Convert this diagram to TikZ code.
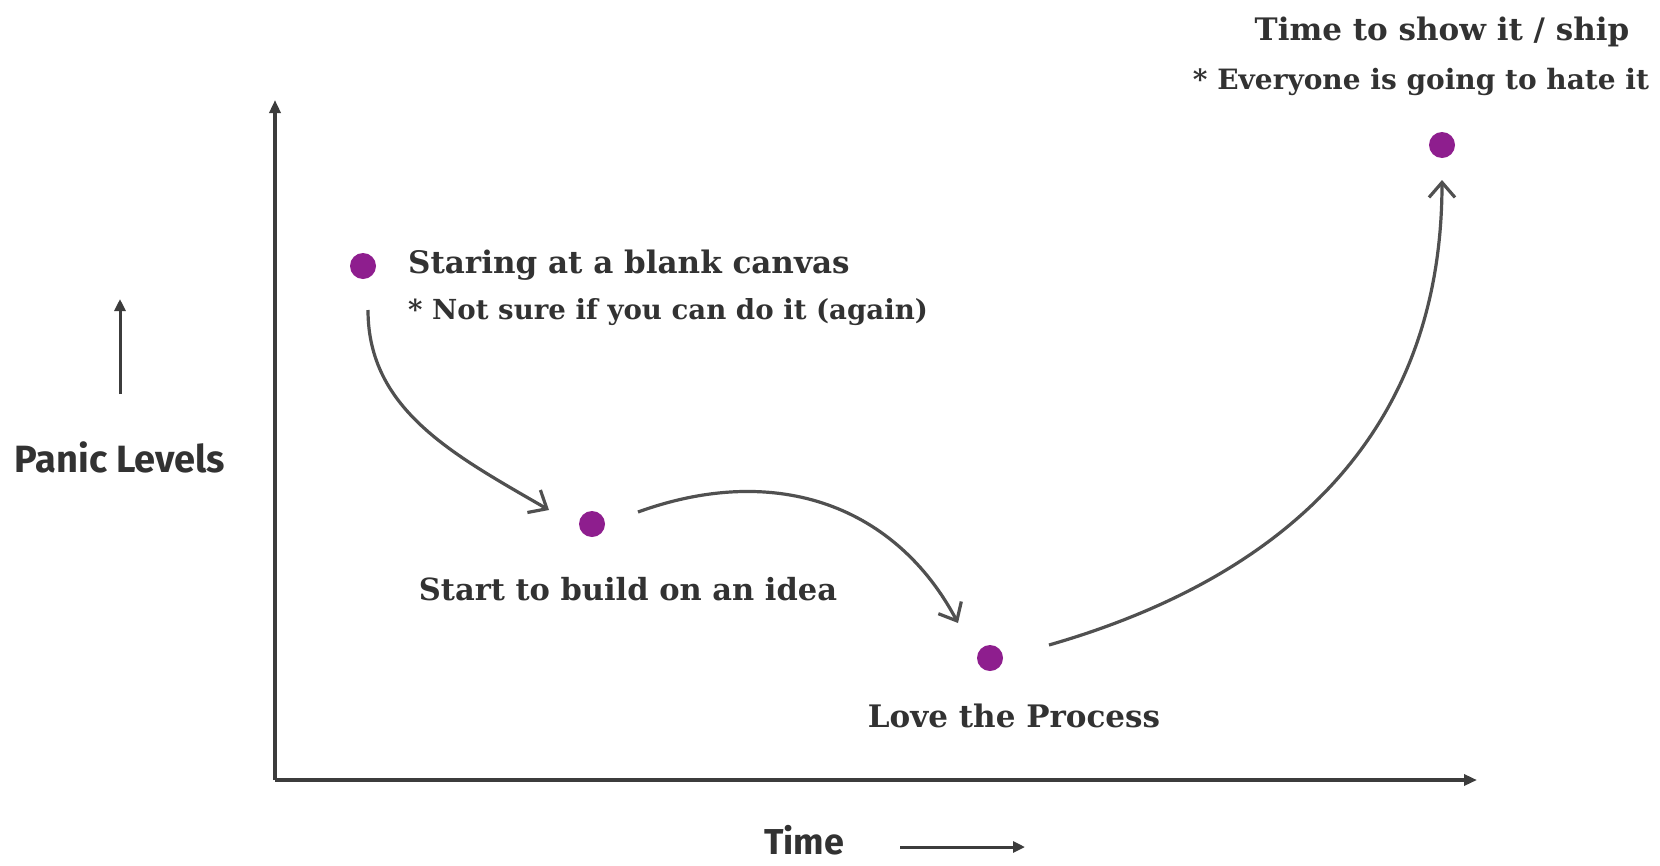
\documentclass[tikz,border=0pt]{standalone}
\usepackage{fontspec}
\setmainfont{DejaVu Serif}
\newfontfamily\handfont{Fira Sans}
\usetikzlibrary{arrows.meta,calc}
\definecolor{dotpurple}{RGB}{142,30,142}
\definecolor{inkgray}{RGB}{60,60,60}
\definecolor{txtgray}{RGB}{50,50,50}
\tikzset{
  dot/.style={circle,fill=dotpurple,minimum size=26pt,inner sep=0pt},
  lbl/.style={inner sep=0pt,text=txtgray,font=\bfseries\fontsize{31}{36}\selectfont},
  sublbl/.style={inner sep=0pt,text=txtgray,font=\bfseries\fontsize{27.6}{33}\selectfont},
  hand/.style={inner sep=0pt,text=txtgray,font=\handfont\bfseries\fontsize{38}{44}\selectfont},
  axis/.style={draw=inkgray,line width=3.5pt,-{Triangle[length=13pt,width=11pt]}},
  flow/.style={draw=inkgray!90,line width=3.2pt,-{Straight Barb[length=15pt,width=26pt,line width=3.2pt]}},
  hint/.style={draw=inkgray,line width=3pt,-{Triangle[length=12pt,width=11pt]}}
}
\begin{document}
\begin{tikzpicture}[x=1pt,y=-1pt]
\useasboundingbox[fill=white] (0,0) rectangle (1660,865);
% axes
\coordinate (origin) at (275,780);
\coordinate (ytop) at (275,100);
\coordinate (xend) at (1477,780);
\draw[axis] (origin) -- (ytop);
\draw[axis] (origin) -- (xend);
% axis labels
\node[hand] (panic) at (120,457) {Panic Levels};
\coordinate (pbot) at (120,394);
\coordinate (ptop) at (120,299);
\draw[hint] (pbot) -- (ptop);
\node[hand,font=\handfont\bfseries\fontsize{36}{40}\selectfont] (time) at (804,840) {Time};
\coordinate (tl) at (900,847);
\coordinate (tr) at (1025,847);
\draw[hint] (tl) -- (tr);
% dots
\node[dot] (d1) at (363,266) {};
\node[dot] (d2) at (592,524) {};
\node[dot] (d3) at (990,658) {};
\node[dot] (d4) at (1442,145) {};
% labels
\node[lbl,anchor=west] (l1a) at (408,265) {Staring at a blank canvas};
\node[sublbl,anchor=west] (l1b) at (408,312) {* Not sure if you can do it (again)};
\node[lbl,font=\bfseries\fontsize{30.5}{36}\selectfont] (l2) at (628,589) {Start to build on an idea};
\node[lbl] (l3) at (1014,716) {Love the Process};
\node[lbl] (l4a) at (1442,32) {Time to show it / ship};
\node[sublbl,font=\bfseries\fontsize{28}{33}\selectfont] (l4b) at (1421,82) {* Everyone is going to hate it};
% connectors
\coordinate (a1s) at ($(d1)+(5,44)$);
\coordinate (a1e) at ($(d2)+(-43,-14)$);
\coordinate (a2s) at ($(d2)+(46,-12)$);
\coordinate (a2e) at ($(d3)+(-32,-35)$);
\coordinate (a3s) at ($(d3)+(59,-13)$);
\coordinate (a3e) at ($(d4)+(0,35)$);
\draw[flow] (a1s) .. controls +(0,100) and +(-95,-55) .. (a1e);
\draw[flow] (a2s) .. controls +(141,-51) and +(-61,-115) .. (a2e);
\draw[flow] (a3s) .. controls +(240,-69) and +(0,250) .. (a3e);
\end{tikzpicture}
\end{document}
